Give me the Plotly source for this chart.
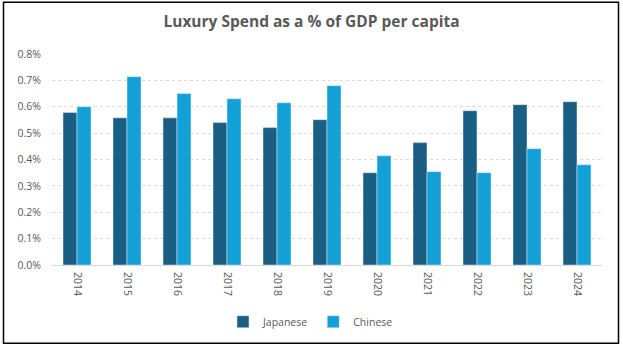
import plotly.graph_objects as go

years = ["2014", "2015", "2016", "2017", "2018", "2019", "2020", "2021", "2022", "2023", "2024"]
japanese = [0.578, 0.558, 0.558, 0.540, 0.521, 0.551, 0.350, 0.464, 0.585, 0.608, 0.619]
chinese = [0.600, 0.714, 0.650, 0.630, 0.615, 0.680, 0.414, 0.354, 0.350, 0.441, 0.380]
y_ticks = [0.0, 0.1, 0.2, 0.3, 0.4, 0.5, 0.6, 0.7, 0.8]
y_labels = ["0.0%", "0.1%", "0.2%", "0.3%", "0.4%", "0.5%", "0.6%", "0.7%", "0.8%"]

FONT = "Open Sans, Lato, Liberation Sans, sans-serif"
GRAY = "#595959"

fig = go.Figure()
fig.add_trace(go.Bar(name="Japanese", x=years, y=japanese, marker_color="#1A5F83"))
fig.add_trace(go.Bar(name="Chinese", x=years, y=chinese, marker_color="#12A0D7"))

fig.update_layout(
    width=623, height=349,
    margin=dict(l=52, r=21, t=54, b=84),
    paper_bgcolor="white", plot_bgcolor="white",
    barmode="group", bargap=0.44, bargroupgap=0,
    title=dict(text="<b>Luxury Spend as a % of GDP per capita</b>", x=0.5, xanchor="center",
               y=1 - 22 / 349, yanchor="middle",
               font=dict(family=FONT, size=15.5, color=GRAY)),
    font=dict(family=FONT, size=10.5, color=GRAY),
    showlegend=True,
    legend=dict(orientation="h", x=0.47, xanchor="center", y=-0.269, yanchor="middle",
                font=dict(family=FONT, size=10.5, color=GRAY), traceorder="normal",
                itemwidth=30),
    xaxis=dict(tickangle=90, showline=True, linecolor="#D9D9D9", linewidth=1,
               ticks="", showgrid=False, ticklabelstandoff=4,
               tickfont=dict(size=10.5, color=GRAY)),
    yaxis=dict(range=[0, 0.8], tickvals=y_ticks, ticktext=y_labels,
               showgrid=True, gridcolor="#D9D9D9", griddash="dot", gridwidth=1,
               zeroline=False, showline=False, ticks="", ticklabelstandoff=10,
               tickfont=dict(size=10.5, color=GRAY)),
    shapes=[dict(type="rect", xref="paper", yref="paper",
                 x0=(3.5 - 52) / 550, x1=(618.5 - 52) / 550,
                 y0=(265.3 - 343.5) / 211, y1=(265.3 - 2.5) / 211,
                 line=dict(color="black", width=1.5), fillcolor="rgba(0,0,0,0)",
                 layer="below")],
)

fig.write_html("out.html")
